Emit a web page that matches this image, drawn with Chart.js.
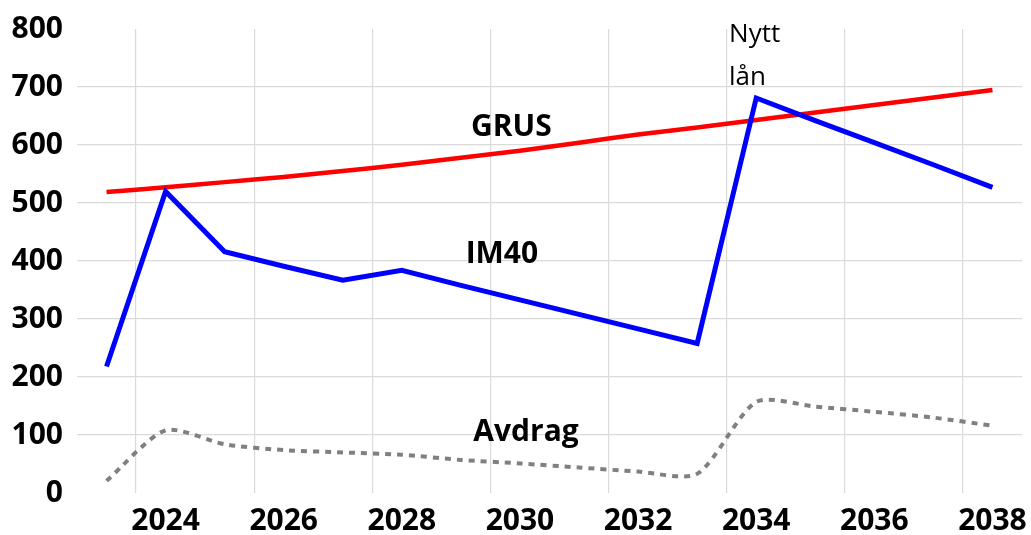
<!DOCTYPE html>
<html>
<head>
<meta charset="utf-8">
<script src="https://cdn.jsdelivr.net/npm/chart.js@4/dist/chart.umd.min.js"></script>
<style>
  html, body { margin: 0; padding: 0; background: #fff; }
  #wrap { width: 1031px; height: 535px; position: relative; }
</style>
</head>
<body>
<div id="wrap"><canvas id="loanChart"></canvas></div>
<script>
// years on the x axis
const years = [2023, 2024, 2025, 2026, 2027, 2028, 2029, 2030, 2031, 2032, 2033, 2034, 2035, 2036, 2037, 2038];

// series values
const grus = [519, 527, 536, 545, 555, 566, 578, 590, 604, 618, 630, 643, 656, 669, 682, 695];
const im40 = [218, 520, 416, 391, 367, 384, 358, 333, 308, 283, 258, 681, 642, 604, 566, 527];
const avdrag = [21, 108, 84, 74, 70, 66, 57, 51, 44, 37, 33, 157, 149, 140, 130, 116];

// y ticks
const yMin = 0;
const yMax = 800;
const yStep = 100;

// text labels in the plot: [text, year position, value, bold]
const notes = [
  ["GRUS", 2029.17, 615, true],
  ["IM40", 2029.08, 397, true],
  ["Avdrag", 2029.21, 90, true],
  ["Nytt", 2033.54, 778, false],
  ["lån", 2033.54, 704, false]
];

const FONT = "'Open Sans', 'Noto Sans', sans-serif";
const gridColor = "#dadada";

// draws the in-plot labels at data positions
const notesPlugin = {
  id: "notes",
  afterDatasetsDraw(chart) {
    const { ctx, scales } = chart;
    ctx.save();
    ctx.fillStyle = "#000";
    ctx.textAlign = "left";
    ctx.textBaseline = "alphabetic";
    notes.forEach(([text, yr, val, bold]) => {
      ctx.font = (bold ? "bold 30px " : "26px ") + FONT;
      const x = scales.x.getPixelForValue(yr - years[0]);
      const y = scales.y.getPixelForValue(val);
      ctx.fillText(text, x, y);
    });
    ctx.restore();
  }
};

new Chart(document.getElementById("loanChart"), {
  type: "line",
  data: {
    labels: years,
    datasets: [
      {
        label: "Avdrag",
        data: avdrag,
        borderColor: "#808080",
        borderWidth: 4,
        borderDash: [6, 6],
        tension: 0.25,
        pointRadius: 0,
        fill: false
      },
      {
        label: "IM40",
        data: im40,
        borderColor: "#0000ff",
        borderWidth: 5,
        tension: 0,
        pointRadius: 0,
        fill: false
      },
      {
        label: "GRUS",
        data: grus,
        borderColor: "#ff0000",
        borderWidth: 4.5,
        tension: 0.2,
        pointRadius: 0,
        fill: false
      }
    ]
  },
  options: {
    responsive: true,
    maintainAspectRatio: false,
    animation: false,
    layout: { padding: { top: 29, right: 9, bottom: 0, left: 0 } },
    plugins: {
      legend: { display: false },
      tooltip: { enabled: false }
    },
    scales: {
      x: {
        type: "category",
        offset: true,
        border: { display: false },
        grid: {
          offset: true,
          drawTicks: false,
          lineWidth: 1.2,
          color: (c) => (c.tick && years[c.index] % 2 === 0 ? gridColor : "transparent")
        },
        ticks: {
          autoSkip: false,
          maxRotation: 0,
          minRotation: 0,
          padding: 10,
          color: "#000",
          font: { family: FONT, size: 30, weight: "bold" },
          callback: (v, i) => (years[i] % 2 === 0 ? String(years[i]) : "")
        },
        afterFit: (scale) => {
          scale.height = 42;
          scale.paddingLeft = 0;
          scale.paddingRight = 0;
        }
      },
      y: {
        min: yMin,
        max: yMax,
        border: { display: false },
        grid: {
          drawTicks: false,
          lineWidth: 1.2,
          color: (c) => (c.tick && c.tick.value > yMin && c.tick.value < yMax ? gridColor : "transparent")
        },
        ticks: {
          stepSize: yStep,
          padding: 14,
          color: "#000",
          font: { family: FONT, size: 30, weight: "bold" }
        },
        afterFit: (scale) => {
          scale.width = 77;
          scale.paddingTop = 0;
          scale.paddingBottom = 0;
        }
      }
    }
  },
  plugins: [notesPlugin]
});
</script>
</body>
</html>
